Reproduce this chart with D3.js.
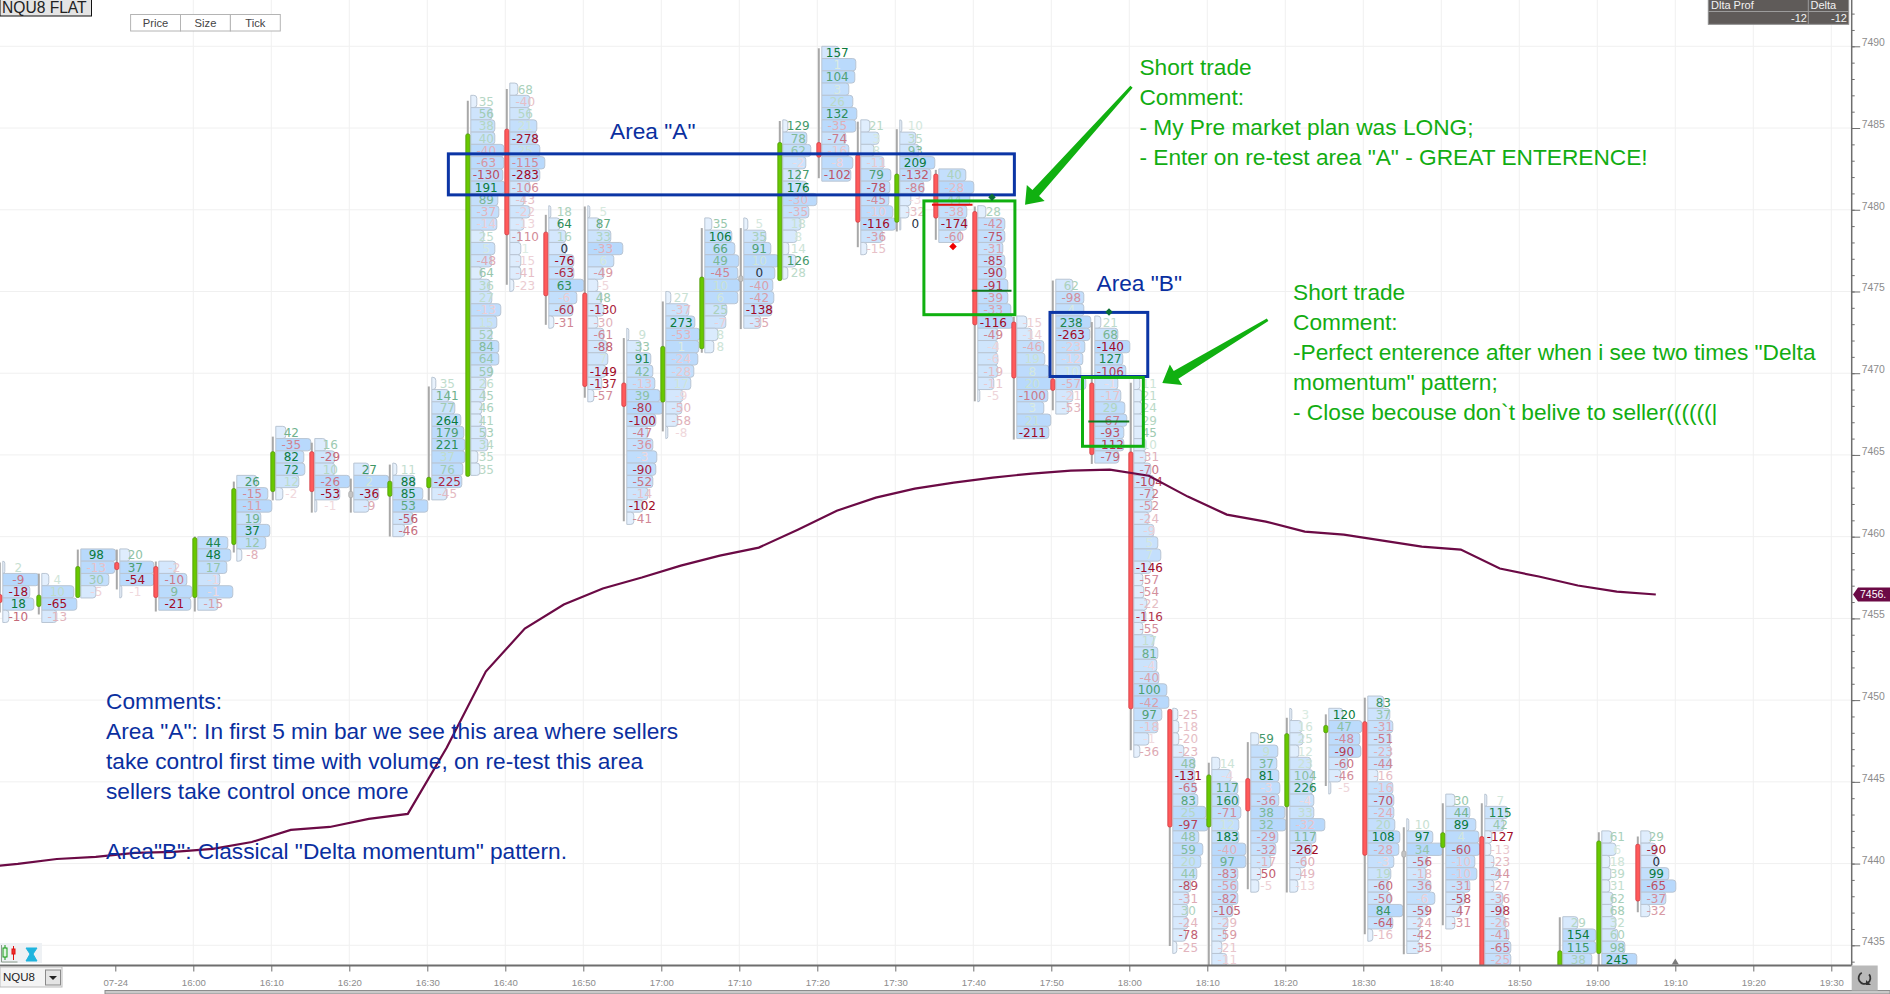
<!DOCTYPE html>
<html>
<head>
<meta charset="utf-8">
<title>NQU8 footprint</title>
<script src="https://cdn.jsdelivr.net/npm/d3@7"></script>
<style>
    html, body { margin: 0; padding: 0; background: #fff; overflow: hidden; }
    text { font-family: "Liberation Sans", Arial, sans-serif; }
    .delta { font-family: "DejaVu Sans", Verdana, sans-serif; font-size: 12px; text-anchor: middle; }
    .axis text { fill: #8c8c8c; font-size: 9.6px; }
    .axis line, .axis path { stroke: #6e6e6e; }
    .note { font-size: 22.7px; }
</style>
</head>
<body>
<div id="chart"></div>
<script>
// bar start times
var barTimes = ["15:35","15:40","15:45","15:50","15:55","16:00","16:05","16:10","16:15","16:20","16:25","16:30","16:35","16:40",
    "16:45","16:50","16:55","17:00","17:05","17:10","17:15","17:20","17:25","17:30","17:35","17:40","17:45","17:50","17:55",
    "18:00","18:05","18:10","18:15","18:20","18:25","18:30","18:35","18:40","18:45","18:55","19:00","19:05"];

// candles
var barOpen = [7456.46,7455.73,7456.28,7458.42,7458.17,7456.28,7459.52,7462.76,7465.20,7462.77,7462.47,7463.00,7463.69,7484.93,
    7478.63,7474.90,7469.40,7468.24,7471.50,7475.96,7475.67,7484.11,7483.36,7479.24,7482.18,7479.89,7473.13,7469.65,7469.40,
    7465.18,7449.43,7442.24,7445.20,7443.48,7448.01,7448.68,7440.77,7440.98,7441.65,7433.00,7434.50,7441.18];
var barClose = [7455.97,7456.42,7458.17,7457.99,7456.28,7459.94,7462.94,7465.20,7462.76,7462.39,7463.39,7463.63,7484.64,7478.47,
    7474.74,7469.19,7467.97,7471.64,7475.88,7475.61,7484.11,7483.22,7479.24,7482.18,7479.49,7472.96,7469.71,7468.95,7465.02,
    7449.47,7442.24,7445.42,7443.22,7447.95,7448.45,7440.51,7440.40,7441.89,7433.00,7434.66,7441.38,7437.71];
var barHigh = [7458.42,7457.74,7459.21,7459.21,7458.48,7460.01,7463.37,7466.12,7465.75,7463.55,7464.41,7469.19,7486.67,7487.39,
    7479.69,7480.20,7472.15,7474.39,7478.88,7478.88,7485.43,7489.88,7485.39,7484.93,7482.44,7480.20,7473.45,7475.67,7473.13,
    7469.42,7449.43,7446.17,7447.43,7448.92,7449.13,7450.15,7442.22,7443.69,7443.69,7436.72,7441.91,7441.65];
var barLow = [7455.36,7455.24,7456.28,7456.77,7455.42,7455.42,7459.03,7462.22,7461.47,7461.47,7460.01,7462.22,7463.69,7475.41,
    7472.96,7468.50,7460.94,7466.44,7471.25,7472.70,7475.67,7481.93,7477.71,7478.67,7478.16,7468.28,7465.94,7467.73,7464.45,
    7446.94,7434.96,7433.00,7438.43,7438.23,7444.74,7435.68,7434.46,7436.23,7433.00,7433.00,7433.00,7437.02];

// price at the top edge of each bar's first row
var barTopPrice = [7458.5,7457.75,7459.25,7459.25,7458.5,7460,7463.75,7466.75,7466,7464.5,7464.5,7469.75,7487,7487.75,
    7480.25,7480.25,7472.75,7475,7479.5,7479.5,7485.5,7490,7485.5,7485.5,7482.5,7480.25,7473.5,7475.75,7473.5,
    7469.75,7449.5,7446.5,7448,7449.5,7449.5,7450.25,7442.75,7444.25,7444.25,7436.75,7442,7442];

// delta of each row, top to bottom
var barDeltas = [
    [2,-9,-18,18,-10],
    [4,10,-65,-13],
    [98,-13,30,-5],
    [20,37,-54,-1],
    [-2,-10,9,-21],
    [44,48,17,-1,-1,-15],
    [26,-15,-11,19,37,12,-8],
    [42,-35,82,72,12,-2],
    [16,-29,10,-26,-53,-1],
    [27,2,-36,-9],
    [11,88,85,53,-56,-46],
    [35,141,77,264,179,221,37,76,-225,-45],
    [35,56,38,40,-40,-63,-130,191,89,-37,-14,25,5,-48,64,36,27,-13,15,52,84,64,59,26,45,46,41,53,34,35,35],
    [68,-40,56,21,-278,25,-115,-283,-106,-43,-22,-13,-110,1,-15,-41,-23],
    [18,64,16,0,-76,-63,63,-6,-60,-31],
    [5,87,33,-33,6,-49,-5,48,-130,-30,-61,-88,7,-149,-137,-57],
    [9,33,91,42,-13,39,-80,-100,-47,-36,-3,-90,-52,-14,-102,-41],
    [27,-37,273,-53,1,-24,-28,17,-9,-50,-58,-8],
    [35,106,66,49,-45,10,6,25,-7,8,8],
    [5,35,91,10,0,-40,-42,-138,-35],
    [129,78,62,-2,127,176,-30,-35,18,8,14,126,28],
    [157,1,104,3,26,132,-35,-74,-16,-8,-102],
    [21,3,8,-11,79,-78,-45,-10,-116,-36,-15],
    [10,35,93,209,-132,-86,-3,-32,0],
    [40,-28,44,-38,-174,-60],
    [28,-42,-75,-31,-85,-90,-91,-39,-33,-116,-49,-4,-6,-19,-11,-5],
    [-15,-14,-46,19,8,20,-100,3,21,-211],
    [62,-98,4,238,-263,-23,-12,10,-57,-21,-53],
    [21,68,-140,127,-106,-1,-17,29,-67,-93,-112,-79],
    [11,21,24,29,45,10,-31,-70,-104,-72,-52,-24,-9,5,7,-146,-57,-54,-22,-116,-55,17,81,-4,-40,100,-42,97,-18,-1,-36],
    [-25,-18,-20,-23,48,-131,-65,83,25,-97,48,59,20,44,-89,-31,30,-24,-78,-25],
    [14,-4,117,160,-71,12,183,-40,97,-83,-56,-82,-105,-29,-59,-21,-11],
    [59,9,37,81,-3,-36,38,32,-29,-32,-17,-50,-5],
    [3,16,25,12,23,104,226,-4,33,-32,117,-262,-60,-49,-13],
    [120,47,-48,-90,-60,-46,-5],
    [83,37,-31,-51,-23,-44,-16,-16,-70,-24,20,108,-28,-3,19,-60,-50,84,-64,-16],
    [10,97,34,-56,-18,-36,-6,-59,-24,-42,-35],
    [30,44,89,4,-60,-10,-10,-31,-58,-47,-31],
    [7,115,42,-127,-13,-23,-44,-27,-36,-98,-26,-41,-65,-25],
    [29,154,115,38],
    [61,6,18,39,31,62,68,32,60,98,245],
    [29,-90,0,99,-65,-37,-32]
];

// relative volume of each row (widest row of a bar is about 35)
var barVolumes = [
    [2,36,27,31,6],
    [7,32,35,15],
    [35,34,28,15],
    [10,34,34,2],
    [17,28,33,32],
    [30,33,29,22,35,20],
    [20,31,35,24,33,29,5],
    [10,35,28,29,23,7],
    [11,20,20,35,25,2],
    [15,35,25,15],
    [4,22,30,35,20,12],
    [4,17,23,29,32,33,33,31,30,15],
    [6,21,24,24,33,33,32,34,27,28,26,13,24,21,11,19,21,30,26,21,28,28,21,15,14,11,11,15,17,7,9],
    [8,20,20,27,27,30,35,30,20,14,20,14,10,11,11,11,4],
    [2,11,17,17,25,25,35,28,24,5],
    [2,12,23,35,26,16,10,14,16,10,16,19,20,18,14,6],
    [2,14,24,26,28,33,36,29,21,26,30,29,26,21,16,7],
    [5,23,29,34,33,32,28,25,17,16,12,2],
    [7,27,30,34,33,35,33,22,21,13,9],
    [4,22,27,35,31,29,30,28,17],
    [5,24,28,23,17,24,34,26,18,14,6,13,5],
    [17,34,33,27,31,35,34,24,27,31,29],
    [9,18,13,23,30,29,28,32,35,22,6],
    [2,16,19,35,31,24,11,9,1],
    [27,35,31,28,28,22],
    [8,27,27,25,27,28,30,30,33,35,20,20,20,20,16,2],
    [10,15,27,28,32,35,31,27,34,32],
    [17,28,28,35,34,29,27,25,30,17,13],
    [6,23,35,28,31,23,26,30,32,29,29,24],
    [6,8,8,10,10,12,12,17,20,20,18,15,20,24,27,17,9,10,13,12,9,20,24,23,25,33,35,28,24,15,6],
    [5,6,6,11,22,22,23,25,33,35,26,30,28,24,18,16,15,15,13,4],
    [8,19,26,27,29,27,27,34,34,26,26,26,21,16,14,10,15],
    [8,27,26,28,29,28,34,35,27,25,20,10,8],
    [2,12,13,9,21,23,23,24,24,35,26,22,16,11,8],
    [14,33,31,32,19,12,2],
    [16,22,25,23,23,23,10,25,26,26,27,32,31,26,23,21,23,35,25,5],
    [2,26,36,21,19,24,28,21,14,13,13],
    [9,24,30,33,34,29,31,24,19,15,9],
    [2,23,19,7,6,9,14,9,18,19,21,24,26,26],
    [15,33,33,29],
    [10,14,8,9,8,11,11,14,16,23,35],
    [10,15,17,28,35,25,9]
];

// maroon average line, one value per bar middle
var lineValues = [7439.86,7439.98,7440.28,7440.41,7440.65,7440.71,7440.90,7441.32,7442.06,7442.24,7442.73,7443.04,7447.10,7451.75,
    7454.38,7455.85,7456.83,7457.50,7458.23,7458.84,7459.33,7460.43,7461.59,7462.39,7462.94,7463.31,7463.61,7463.86,7464.04,
    7464.10,7463.73,7462.45,7461.35,7460.92,7460.31,7460.13,7459.76,7459.39,7459.21,7458.05,7457.56,7457.01,7456.64,7456.46];
var lineTimes = ["15:35:00","15:37:30","15:42:30","15:47:30","15:52:30","15:57:30","16:02:30","16:07:30","16:12:30","16:17:30","16:22:30",
    "16:27:30","16:32:30","16:37:30","16:42:30","16:47:30","16:52:30","16:57:30","17:02:30","17:07:30","17:12:30","17:17:30","17:22:30",
    "17:27:30","17:32:30","17:37:30","17:42:30","17:47:30","17:52:30","17:57:30","18:02:30","18:07:30","18:12:30","18:17:30","18:22:30",
    "18:27:30","18:32:30","18:37:30","18:42:30","18:47:30","18:52:30","18:57:30","19:02:30","19:07:30"];

// axis ticks
var timeTicks = ["15:50","16:00","16:10","16:20","16:30","16:40","16:50","17:00","17:10","17:20","17:30","17:40","17:50","18:00",
    "18:10","18:20","18:30","18:40","18:50","19:00","19:10","19:20","19:30"];
var priceTicks = [7490,7485,7480,7475,7470,7465,7460,7455,7450,7445,7440,7435];
var lastPrice = 7456.46;

// drawn boxes: [from, to, top price, bottom price]
var blueBoxes = [["16:32:42","17:45:16",7483.42,7480.91],["17:49:50","18:02:22",7473.72,7469.80]];
var greenBoxes = [["17:33:40","17:45:20",7480.54,7473.58],["17:54:00","18:01:48",7469.74,7465.53]];
// trade marks
var redLines = [["17:34:42","17:39:54",7480.30]];
var greenLines = [["17:39:48","17:44:54",7475.04],["17:54:45","18:00:00",7467.05]];
var redDiamonds = [["17:37:24",7477.75]];
var greenDiamonds = [["17:42:24",7480.77],["17:57:24",7473.74]];
// arrows: [tail time, tail price, tip time, tip price]
var arrows = [["18:00:17",7487.53,"17:46:38",7480.30],["18:17:44",7473.27,"18:04:14",7469.40]];

var areaLabels = [{ text: 'Area "A"', x: 610, y: 131 }, { text: 'Area "B"', x: 1096.5, y: 283 }];
var shortNote1 = ["Short trade", "Comment:", "- My Pre market plan was LONG;", '- Enter on re-test area "A" - GREAT ENTERENCE!'];
var shortNote2 = ["Short trade", "Comment:", '-Perfect enterence after when i see two times "Delta', 'momentum" pattern;', "- Close becouse don`t belive to seller((((((|"];
var comments = ["Comments:", 'Area "A": In first 5 min bar we see this area where sellers', "take control first time with volume, on re-test this area",
    "sellers take control once more", "", 'Area"B": Classical "Delta momentum" pattern.'];

var width = 1890, height = 994;
var plotRight = 1851.7, plotBottom = 965.5;
var noteBlue = "#0a2fa0", noteGreen = "#12ad12", lineColour = "#6b0a45";

var parseTime = d3.timeParse("%H:%M:%S");
function toTime(s) { return parseTime(s.length === 5 ? s + ":00" : s); }

var svg = d3.select("#chart").append("svg")
    .attr("width", width)
    .attr("height", height)
    .style("display", "block");

svg.append("defs").append("clipPath").attr("id", "plotClip")
    .append("rect").attr("width", plotRight).attr("height", plotBottom);

// Scales and axes
var x = d3.scaleTime()
    .domain([toTime("16:00"), toTime("19:30")])
    .range([193.3, 1831.3]);

var y = d3.scaleLinear()
    .domain([7490, 7435])
    .range([46.3, 945.3]);

var rowHeight = y(7489.25) - y(7490);
var profileWidth = d3.scaleLinear().domain([0, 35]).range([0, 35]);
var profileFill = d3.scaleLinear().domain([0, 35]).range(["#eef5fd", "#b8d9fc"]);

// Grid
var gGrid = svg.append("g").attr("stroke", "#f0f0f0").attr("stroke-width", 1);
gGrid.selectAll(".gx").data(timeTicks.slice(1)).enter().append("line")
    .attr("x1", function(d) { return x(toTime(d)); })
    .attr("x2", function(d) { return x(toTime(d)); })
    .attr("y1", 0).attr("y2", plotBottom);
gGrid.selectAll(".gy").data(priceTicks).enter().append("line")
    .attr("x1", 0).attr("x2", plotRight)
    .attr("y1", function(d) { return y(d); })
    .attr("y2", function(d) { return y(d); });

var gPlot = svg.append("g").attr("clip-path", "url(#plotClip)");

function barX(i) { return x(toTime(barTimes[i])) + 1.5; }

// Footprint rows
var rows = [];
barTimes.forEach(function(t, i) {
    var maxDelta = d3.max(barDeltas[i], function(d) { return Math.abs(d); });
    barDeltas[i].forEach(function(d, k) {
        rows.push({
            bar: i,
            delta: d,
            vol: barVolumes[i][k],
            top: barTopPrice[i] - k * 0.75,
            strength: Math.abs(d) / maxDelta
        });
    });
});

gPlot.append("g").selectAll("path").data(rows).enter().append("path")
    .attr("d", function(d) {
        var x0 = barX(d.bar) + 3, y0 = y(d.top), w = profileWidth(d.vol), r = Math.min(3, w);
        return "M" + x0 + "," + y0 + "h" + (w - r) + "q" + r + ",0 " + r + "," + r +
            "v" + (rowHeight - 2 * r) + "q0," + r + " " + (-r) + "," + r + "h" + (r - w) + "z";
    })
    .attr("fill", function(d) { return profileFill(d.vol); })
    .attr("stroke", "#b9c5d3")
    .attr("stroke-width", 1);

// Wicks and candles
var gCandles = gPlot.append("g");
gCandles.selectAll("line").data(barTimes).enter().append("line")
    .attr("x1", function(d, i) { return barX(i); })
    .attr("x2", function(d, i) { return barX(i); })
    .attr("y1", function(d, i) { return y(barHigh[i]); })
    .attr("y2", function(d, i) { return y(barLow[i]); })
    .attr("stroke", "#a8a8a8")
    .attr("stroke-width", 2);

function candleKind(i) {
    if (i === 9 || i === 19 || i === 36) return "doji";
    return barClose[i] > barOpen[i] ? "up" : "down";
}
var candleFill = { up: "#68c800", down: "#ff5a5a", doji: "#c4c4c4" };
var candleStroke = { up: "#4f9a06", down: "#d23a44", doji: "#a8a8a8" };

gCandles.selectAll("rect").data(barTimes).enter().append("rect")
    .attr("x", function(d, i) { return barX(i) - 2; })
    .attr("width", 4)
    .attr("y", function(d, i) { return y(Math.max(barOpen[i], barClose[i])); })
    .attr("height", function(d, i) { return Math.abs(y(barOpen[i]) - y(barClose[i])); })
    .attr("rx", 1.5)
    .attr("fill", function(d, i) { return candleFill[candleKind(i)]; })
    .attr("stroke", function(d, i) { return candleStroke[candleKind(i)]; })
    .attr("stroke-width", 0.8);

// Delta labels, darker the bigger they are inside their bar
var greenText = d3.interpolateRgb("#ffffff", "#0b7a3c");
var redText = d3.interpolateRgb("#ffffff", "#a00a26");
gPlot.append("g").selectAll("text").data(rows).enter().append("text")
    .attr("class", "delta")
    .attr("x", function(d) { return barX(d.bar) + 18.5; })
    .attr("y", function(d) { return y(d.top) + rowHeight / 2 + 4.4; })
    .attr("fill", function(d) {
        if (d.delta === 0) return "#27313f";
        var t = 0.14 + 0.86 * d.strength;
        return d.delta > 0 ? greenText(t) : redText(t);
    })
    .text(function(d) { return d.delta; });

// Average line
var line = d3.line()
    .x(function(d, i) { return x(toTime(lineTimes[i])); })
    .y(function(d) { return y(d); });
gPlot.append("path")
    .attr("d", line(lineValues))
    .attr("fill", "none")
    .attr("stroke", lineColour)
    .attr("stroke-width", 2.2);

// Boxes and trade marks
function addBoxes(data, colour) {
    gPlot.append("g").selectAll("rect").data(data).enter().append("rect")
        .attr("x", function(d) { return x(toTime(d[0])); })
        .attr("width", function(d) { return x(toTime(d[1])) - x(toTime(d[0])); })
        .attr("y", function(d) { return y(d[2]); })
        .attr("height", function(d) { return y(d[3]) - y(d[2]); })
        .attr("fill", "none")
        .attr("stroke", colour)
        .attr("stroke-width", 3);
}
addBoxes(blueBoxes, "#0b35a5");
addBoxes(greenBoxes, "#10b010");

function addTradeLines(data, colour) {
    gPlot.append("g").selectAll("line").data(data).enter().append("line")
        .attr("x1", function(d) { return x(toTime(d[0])); })
        .attr("x2", function(d) { return x(toTime(d[1])); })
        .attr("y1", function(d) { return y(d[2]); })
        .attr("y2", function(d) { return y(d[2]); })
        .attr("stroke", colour)
        .attr("stroke-width", 2);
}
addTradeLines(redLines, "#e01010");
addTradeLines(greenLines, "#0e7a1e");

function addDiamonds(data, colour) {
    gPlot.append("g").selectAll("path").data(data).enter().append("path")
        .attr("d", d3.symbol().type(d3.symbolDiamond2).size(36))
        .attr("transform", function(d) { return "translate(" + x(toTime(d[0])) + "," + y(d[1]) + ")"; })
        .attr("fill", colour);
}
addDiamonds(redDiamonds, "#f00000");
addDiamonds(greenDiamonds, "#0b6e35");

// Hand drawn arrows
gPlot.append("g").selectAll("path").data(arrows).enter().append("path")
    .attr("fill", "#10b010")
    .attr("d", function(d) {
        var x0 = x(toTime(d[0])), y0 = y(d[1]), x1 = x(toTime(d[2])), y1 = y(d[3]);
        var len = Math.hypot(x1 - x0, y1 - y0), ux = (x1 - x0) / len, uy = (y1 - y0) / len;
        var nx = -uy, ny = ux, head = 16;
        var bx = x1 - ux * head, by = y1 - uy * head;
        var pts = [[x0 + nx * 1.5, y0 + ny * 1.5], [bx + nx * 4.5, by + ny * 4.5], [bx + nx * 12, by + ny * 12], [x1, y1],
            [bx - nx * 12, by - ny * 12], [bx - nx * 4.5, by - ny * 4.5], [x0 - nx * 1.5, y0 - ny * 1.5]];
        return d3.line()(pts) + "Z";
    });

// Notes
function addNote(lines, left, top, colour) {
    svg.append("g").selectAll("text").data(lines).enter().append("text")
        .attr("class", "note")
        .attr("x", left)
        .attr("y", function(d, i) { return top + i * 30; })
        .attr("fill", colour)
        .text(function(d) { return d; });
}
addNote(shortNote1, 1139.4, 75, noteGreen);
addNote(shortNote2, 1293, 300, noteGreen);
addNote(comments, 106, 709, noteBlue);
svg.append("g").selectAll("text").data(areaLabels).enter().append("text")
    .attr("class", "note")
    .attr("x", function(d) { return d.x; })
    .attr("y", function(d) { return d.y + 8; })
    .attr("fill", noteBlue)
    .text(function(d) { return d.text; });

// Time axis
var xAxis = d3.axisBottom(x)
    .tickValues(timeTicks.map(toTime))
    .tickSize(6)
    .tickFormat(function(d, i) { return i === 0 ? "07-24" : d3.timeFormat("%H:%M")(d); });
var xAxisGroup = svg.append("g")
    .attr("class", "axis x-axis")
    .attr("transform", "translate(0," + plotBottom + ")")
    .call(xAxis);
xAxisGroup.select(".domain").remove();
xAxisGroup.selectAll("text").attr("y", 14);
svg.append("line")
    .attr("x1", 0).attr("x2", plotRight)
    .attr("y1", plotBottom).attr("y2", plotBottom)
    .attr("stroke", "#6e6e6e").attr("stroke-width", 2);

// Price axis
var minorTicks = d3.range(7434, 7493);
var yMinor = svg.append("g")
    .attr("class", "axis y-axis")
    .attr("transform", "translate(" + plotRight + ",0)")
    .call(d3.axisRight(y).tickValues(minorTicks).tickSize(3).tickFormat(""));
yMinor.select(".domain").remove();
var yMajor = svg.append("g")
    .attr("class", "axis y-axis")
    .attr("transform", "translate(" + plotRight + ",0)")
    .call(d3.axisRight(y).tickValues(priceTicks).tickSize(8.5).tickPadding(1.5).tickFormat(d3.format("d")));
yMajor.select(".domain").remove();
yMajor.selectAll("text").attr("dy", "-0.05em").style("font-size", "10.4px");
svg.append("line")
    .attr("x1", plotRight).attr("x2", plotRight)
    .attr("y1", 0).attr("y2", plotBottom)
    .attr("stroke", "#6e6e6e").attr("stroke-width", 1.5);

// Last price tag
var tagY = y(lastPrice);
svg.append("path")
    .attr("d", "M1853," + tagY + "l5,-7h32v14h-32z")
    .attr("fill", lineColour);
svg.append("text")
    .attr("x", 1860).attr("y", tagY + 3.8)
    .attr("fill", "#ffffff")
    .style("font-size", "10.5px")
    .text("7456.");

// Marker at the current time
svg.append("path")
    .attr("d", d3.symbol().type(d3.symbolTriangle).size(22))
    .attr("transform", "translate(" + x(toTime("19:10")) + "," + (plotBottom - 3) + ")")
    .attr("fill", "#7a7a7a");

// Top left widgets
svg.append("rect").attr("x", 0).attr("y", -1).attr("width", 91.5).attr("height", 17)
    .attr("fill", "#e4e4e4").attr("stroke", "#111");
svg.append("text").attr("x", 2).attr("y", 13).attr("fill", "#222").style("font-size", "15.6px").text("NQU8 FLAT");

var buttonNames = ["Price", "Size", "Tick"];
var gButtons = svg.append("g").selectAll("g").data(buttonNames).enter().append("g")
    .attr("transform", function(d, i) { return "translate(" + (130.6 + i * 49.9) + ",14.5)"; });
gButtons.append("rect").attr("width", 49.9).attr("height", 16.5)
    .attr("fill", "#fff").attr("stroke", "#b4b4b4");
gButtons.append("text").attr("x", 25).attr("y", 12).attr("text-anchor", "middle")
    .attr("fill", "#444").style("font-size", "11.2px").text(function(d) { return d; });

// Top right table
var gTable = svg.append("g");
gTable.append("rect").attr("x", 1708.3).attr("y", -1).attr("width", 140.4).attr("height", 25.3)
    .attr("fill", "#5f5b59").attr("stroke", "#8e8e8e");
gTable.append("line").attr("x1", 1708.3).attr("x2", 1848.7).attr("y1", 11.5).attr("y2", 11.5).attr("stroke", "#9c9c9c");
gTable.append("line").attr("x1", 1808.3).attr("x2", 1808.3).attr("y1", 0).attr("y2", 24).attr("stroke", "#9c9c9c");
var tableTexts = [["Dlta Prof", 1711, 9, "start"], ["Delta", 1810.5, 9, "start"], ["-12", 1807, 22, "end"], ["-12", 1847, 22, "end"]];
gTable.selectAll("text").data(tableTexts).enter().append("text")
    .attr("x", function(d) { return d[1]; })
    .attr("y", function(d) { return d[2]; })
    .attr("text-anchor", function(d) { return d[3]; })
    .attr("fill", "#f2f2f2")
    .style("font-size", "11px")
    .text(function(d) { return d[0]; });

// Bottom left: toolbar icons and symbol box
var gTools = svg.append("g");
gTools.append("rect").attr("x", 0).attr("y", 943).attr("width", 42).attr("height", 20).attr("fill", "#eef1f4");
gTools.append("path").attr("d", "M1.5,945v17h16").attr("fill", "none").attr("stroke", "#8a9a8a");
gTools.append("line").attr("x1", 5).attr("x2", 5).attr("y1", 945).attr("y2", 960).attr("stroke", "#129a12");
gTools.append("rect").attr("x", 3).attr("y", 948).attr("width", 4).attr("height", 9).attr("fill", "#dff5df").attr("stroke", "#129a12");
gTools.append("line").attr("x1", 13.5).attr("x2", 13.5).attr("y1", 946).attr("y2", 960).attr("stroke", "#e01010");
gTools.append("rect").attr("x", 12).attr("y", 949).attr("width", 3).attr("height", 5).attr("fill", "#f03030").attr("stroke", "#e01010");
gTools.append("path").attr("d", "M26,948h11l-4,6l4,7h-11l4,-7z").attr("fill", "#1fb4de").attr("stroke", "#1fb4de");
gTools.append("rect").attr("x", 0).attr("y", 967).attr("width", 62).attr("height", 20).attr("fill", "#f4f4f4").attr("stroke", "#bdbdbd");
gTools.append("rect").attr("x", 45.5).attr("y", 970).attr("width", 15).attr("height", 15).attr("fill", "#e4e4e4").attr("stroke", "#8a8a8a");
gTools.append("path").attr("d", "M49,976h8l-4,4z").attr("fill", "#222");
gTools.append("text").attr("x", 3).attr("y", 981).attr("fill", "#222").style("font-size", "11.5px").text("NQU8");

// Bottom right button and scroll bar
svg.append("rect").attr("x", 105).attr("y", 990.5).attr("width", 1785).attr("height", 3.5).attr("fill", "#c9c9c9").attr("stroke", "#8c8c8c");
svg.append("rect").attr("x", plotRight).attr("y", plotBottom).attr("width", 26).attr("height", 25).attr("fill", "#b9b9b9");
svg.append("path")
    .attr("d", d3.arc()({ innerRadius: 5, outerRadius: 6.8, startAngle: 0.9, endAngle: 5.8 }))
    .attr("transform", "translate(1864.5,978)")
    .attr("fill", "#333");
svg.append("path").attr("d", "M1866,980l5,5l-5,0z").attr("fill", "#333");
</script>
</body>
</html>
